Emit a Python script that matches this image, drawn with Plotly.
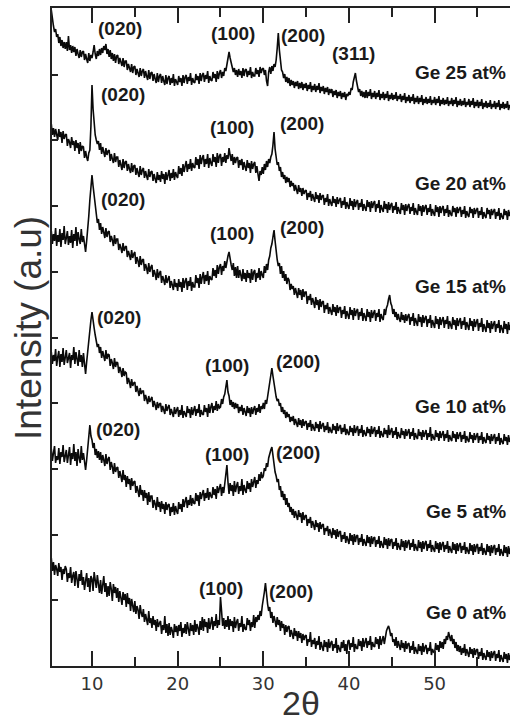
import numpy as np
import plotly.graph_objects as go

# 2-theta scan: start angle and step (degrees)
SCAN_START = 5.25
SCAN_STEP = 0.125

SAMPLES = ["Ge 0 at%", "Ge 5 at%", "Ge 10 at%", "Ge 15 at%", "Ge 20 at%", "Ge 25 at%"]

# Intensity (a.u.) per sample; first row 5.25-5.875, then one row per degree, last value 59.0
ge0 = [
    108, 95, 104, 91, 101, 97,
    90, 103, 94, 99, 86, 97, 92, 100,        # 6
    97, 84, 93, 88, 99, 83, 90, 94,          # 7
    80, 95, 87, 78, 92, 85, 96, 81,          # 8
    89, 76, 85, 93, 79, 88, 74, 90,          # 9
    87, 75, 94, 82, 78, 91, 84, 73,          # 10
    86, 72, 81, 90, 74, 83, 69, 80,          # 11
    70, 84, 77, 65, 82, 73, 79, 68,          # 12
    78, 64, 75, 68, 61, 74, 66, 72,          # 13
    59, 73, 62, 68, 55, 67, 60, 54,          # 14
    65, 52, 60, 56, 47, 61, 53, 49,          # 15
    57, 44, 52, 46, 41, 55, 43, 48,          # 16
    38, 50, 41, 46, 35, 47, 39, 43,          # 17
    45, 32, 41, 36, 50, 33, 42, 30,          # 18
    43, 31, 39, 35, 28, 42, 34, 40,          # 19
    30, 41, 35, 44, 29, 38, 33, 42,          # 20
    32, 44, 37, 30, 43, 35, 41, 31,          # 21
    46, 34, 42, 38, 31, 45, 36, 49,          # 22
    35, 47, 39, 44, 33, 48, 37, 43,          # 23
    49, 36, 45, 40, 52, 38, 46, 41,          # 24
    69, 55, 40, 48, 37, 46, 39, 50,          # 25
    36, 47, 40, 45, 34, 49, 38, 44,          # 26
    47, 35, 43, 39, 50, 34, 42, 37,          # 27
    36, 48, 41, 46, 35, 44, 39, 51,          # 28
    38, 49, 44, 51, 46, 55, 50, 60,          # 29
    66, 74, 83, 70, 62, 55, 59, 48,          # 30
    54, 43, 50, 45, 39, 49, 41, 46,          # 31
    35, 45, 38, 42, 31, 41, 34, 39,          # 32
    40, 29, 36, 32, 27, 38, 30, 35,          # 33
    25, 35, 28, 33, 23, 32, 26, 30,          # 34
    31, 20, 27, 24, 34, 19, 26, 22,          # 35
    28, 17, 25, 21, 30, 16, 24, 19,          # 36
    15, 26, 19, 24, 14, 27, 18, 23,          # 37
    25, 15, 22, 18, 28, 13, 21, 17,          # 38
    14, 24, 18, 26, 15, 22, 12, 25,          # 39
    26, 16, 23, 19, 29, 14, 22, 18,          # 40
    17, 27, 20, 25, 15, 28, 19, 24,          # 41
    28, 18, 25, 21, 30, 16, 24, 20,          # 42
    19, 29, 22, 27, 17, 30, 21, 26,          # 43
    30, 22, 31, 35, 38, 40, 36, 30,          # 44
    33, 24, 27, 20, 29, 18, 25, 21,          # 45
    16, 26, 18, 23, 14, 25, 17, 22,          # 46
    23, 13, 20, 16, 25, 12, 19, 15,          # 47
    12, 22, 15, 20, 11, 23, 14, 19,          # 48
    21, 12, 18, 15, 24, 11, 17, 14,          # 49
    13, 23, 16, 21, 14, 25, 18, 24,          # 50
    17, 27, 22, 30, 26, 34, 29, 25,          # 51
    31, 22, 27, 18, 24, 15, 21, 14,          # 52
    20, 11, 18, 13, 22, 10, 17, 12,          # 53
    9, 19, 12, 17, 8, 18, 11, 16,            # 54
    17, 7, 14, 10, 18, 6, 13, 9,             # 55
    6, 16, 9, 14, 5, 15, 8, 13,              # 56
    15, 5, 12, 8, 16, 4, 11, 7,              # 57
    4, 14, 7, 12, 3, 13, 6, 11,              # 58
    9,
]
ge5 = [
    107, 95, 103, 110, 93, 100,
    96, 108, 92, 104, 99, 111, 94, 102,      # 6
    106, 93, 100, 109, 91, 103, 97, 112,     # 7
    95, 104, 90, 107, 98, 93, 110, 96,       # 8
    103, 92, 86, 96, 110, 122, 131, 120,     # 9
    116, 108, 113, 101, 107, 98, 105, 96,    # 10
    104, 93, 101, 96, 90, 102, 92, 97,       # 11
    99, 86, 94, 89, 82, 93, 84, 88,          # 12
    89, 78, 85, 80, 74, 86, 76, 81,          # 13
    69, 80, 72, 77, 66, 78, 70, 74,          # 14
    75, 63, 70, 65, 59, 71, 61, 66,          # 15
    55, 66, 58, 63, 51, 64, 54, 60,          # 16
    60, 48, 56, 52, 46, 59, 49, 54,          # 17
    44, 55, 47, 52, 42, 54, 46, 51,          # 18
    52, 40, 49, 44, 53, 41, 50, 45,          # 19
    42, 54, 47, 52, 44, 57, 49, 55,          # 20
    59, 48, 56, 51, 61, 50, 58, 53,          # 21
    52, 63, 55, 61, 50, 64, 57, 62,          # 22
    66, 55, 63, 58, 68, 56, 64, 60,          # 23
    58, 69, 61, 67, 57, 70, 63, 68,          # 24
    72, 60, 69, 63, 75, 82, 91, 74,          # 25
    62, 73, 65, 71, 60, 75, 64, 70,          # 26
    74, 62, 70, 65, 77, 61, 71, 66,          # 27
    63, 75, 67, 73, 64, 77, 69, 74,          # 28
    79, 68, 76, 72, 82, 75, 84, 78,          # 29
    80, 88, 85, 93, 89, 98, 103, 106,        # 30
    109, 99, 93, 84, 80, 74, 77, 66,         # 31
    70, 59, 65, 56, 62, 51, 58, 49,          # 32
    53, 44, 49, 41, 47, 38, 45, 40,          # 33
    36, 46, 39, 43, 33, 44, 36, 40,          # 34
    41, 30, 37, 33, 39, 28, 35, 31,          # 35
    26, 36, 29, 33, 24, 34, 27, 31,          # 36
    32, 21, 28, 25, 30, 20, 27, 23,          # 37
    18, 28, 21, 26, 17, 27, 19, 24,          # 38
    25, 14, 21, 17, 24, 13, 20, 16,          # 39
    12, 23, 15, 21, 11, 22, 14, 20,          # 40
    21, 11, 18, 14, 22, 10, 17, 13,          # 41
    10, 21, 13, 19, 9, 20, 12, 18,           # 42
    19, 9, 16, 12, 20, 8, 15, 11,            # 43
    8, 19, 11, 17, 7, 18, 10, 16,            # 44
    17, 7, 14, 10, 18, 6, 13, 9,             # 45
    6, 17, 9, 15, 5, 16, 8, 14,              # 46
    16, 6, 13, 9, 17, 5, 12, 8,              # 47
    5, 16, 8, 14, 4, 15, 7, 13,              # 48
    15, 5, 12, 8, 16, 4, 11, 7,              # 49
    4, 15, 7, 13, 3, 14, 6, 12,              # 50
    14, 4, 11, 7, 15, 3, 10, 6,              # 51
    3, 14, 6, 12, 2, 13, 5, 11,              # 52
    13, 3, 10, 6, 14, 2, 9, 5,               # 53
    2, 13, 5, 11, 1, 12, 4, 10,              # 54
    12, 2, 9, 5, 13, 1, 8, 4,                # 55
    1, 12, 4, 10, 0, 11, 3, 9,               # 56
    11, 1, 8, 4, 12, 0, 7, 3,                # 57
    0, 11, 3, 9, -1, 10, 2, 8,               # 58
    7,
]
ge10 = [
    94, 82, 91, 85, 97, 80,
    89, 95, 79, 92, 84, 98, 81, 90,          # 6
    96, 83, 88, 93, 78, 91, 86, 99,          # 7
    82, 94, 87, 80, 96, 84, 91, 79,          # 8
    93, 80, 72, 84, 96, 106, 116, 126,       # 9
    134, 128, 118, 111, 104, 99, 102, 93,    # 10
    99, 88, 95, 91, 85, 96, 87, 92,          # 11
    91, 80, 87, 83, 77, 88, 79, 84,          # 12
    83, 73, 79, 75, 69, 78, 70, 74,          # 13
    73, 62, 68, 64, 58, 67, 60, 63,          # 14
    64, 54, 60, 55, 50, 58, 52, 55,          # 15
    55, 45, 51, 47, 42, 50, 44, 47,          # 16
    49, 39, 45, 41, 36, 44, 38, 42,          # 17
    43, 34, 40, 36, 32, 42, 35, 39,          # 18
    41, 31, 37, 33, 29, 39, 32, 36,          # 19
    39, 29, 36, 31, 41, 28, 35, 32,          # 20
    29, 40, 33, 37, 28, 39, 31, 36,          # 21
    40, 30, 37, 33, 42, 29, 36, 32,          # 22
    31, 41, 34, 38, 29, 42, 33, 39,          # 23
    43, 33, 40, 36, 45, 35, 42, 38,          # 24
    39, 47, 42, 49, 52, 59, 66, 54,          # 25
    50, 41, 46, 39, 44, 37, 43, 38,          # 26
    42, 33, 39, 35, 41, 31, 38, 34,          # 27
    30, 40, 33, 38, 29, 39, 32, 37,          # 28
    40, 31, 38, 34, 42, 33, 40, 37,          # 29
    43, 37, 46, 42, 49, 55, 63, 71,          # 30
    78, 70, 61, 55, 49, 45, 47, 40,          # 31
    43, 34, 39, 32, 36, 28, 34, 29,          # 32
    32, 24, 29, 25, 30, 21, 27, 23,          # 33
    19, 28, 21, 26, 18, 27, 20, 24,          # 34
    25, 16, 23, 19, 26, 15, 22, 18,          # 35
    15, 24, 18, 22, 14, 25, 17, 21,          # 36
    23, 14, 20, 16, 24, 13, 19, 15,          # 37
    13, 22, 16, 20, 12, 23, 15, 19,          # 38
    21, 12, 18, 14, 22, 11, 17, 13,          # 39
    11, 20, 14, 18, 10, 21, 13, 17,          # 40
    20, 10, 17, 13, 21, 9, 16, 12,           # 41
    10, 19, 13, 17, 9, 20, 12, 16,           # 42
    19, 9, 16, 12, 20, 8, 15, 11,            # 43
    9, 18, 12, 16, 8, 21, 11, 15,            # 44
    18, 8, 15, 11, 19, 7, 14, 10,            # 45
    8, 18, 11, 15, 7, 17, 10, 14,            # 46
    17, 7, 14, 10, 18, 6, 13, 9,             # 47
    7, 17, 10, 14, 6, 16, 9, 13,             # 48
    16, 6, 13, 9, 19, 5, 12, 8,              # 49
    6, 16, 9, 13, 5, 15, 8, 12,              # 50
    15, 5, 12, 8, 16, 4, 11, 7,              # 51
    5, 15, 8, 12, 4, 14, 7, 11,              # 52
    14, 4, 11, 7, 15, 3, 10, 6,              # 53
    4, 14, 7, 11, 3, 13, 6, 10,              # 54
    13, 3, 10, 6, 14, 2, 9, 5,               # 55
    3, 13, 6, 10, 2, 12, 5, 9,               # 56
    12, 2, 9, 5, 13, 1, 8, 4,                # 57
    2, 12, 5, 9, 1, 11, 4, 8,                # 58
    9,
]
ge15 = [
    105, 92, 102, 95, 108, 90,
    101, 94, 107, 89, 103, 96, 110, 92,      # 6
    98, 105, 91, 100, 93, 106, 88, 102,      # 7
    95, 109, 90, 104, 97, 92, 107, 94,       # 8
    100, 91, 84, 95, 106, 120, 136, 150,     # 9
    161, 150, 141, 128, 121, 113, 117, 106,  # 10
    113, 102, 109, 104, 98, 108, 99, 104,    # 11
    105, 94, 100, 96, 90, 101, 92, 97,       # 12
    97, 86, 92, 88, 83, 93, 85, 89,          # 13
    90, 79, 85, 81, 76, 86, 78, 82,          # 14
    84, 72, 79, 75, 69, 80, 71, 76,          # 15
    77, 65, 72, 68, 62, 73, 64, 69,          # 16
    71, 59, 66, 62, 56, 67, 58, 63,          # 17
    65, 53, 60, 56, 51, 61, 53, 57,          # 18
    60, 48, 55, 51, 46, 57, 49, 53,          # 19
    45, 57, 49, 54, 44, 58, 48, 55,          # 20
    58, 46, 55, 50, 59, 45, 54, 49,          # 21
    49, 61, 53, 58, 48, 62, 52, 59,          # 22
    64, 52, 61, 55, 65, 51, 60, 57,          # 23
    56, 68, 60, 66, 58, 71, 62, 69,          # 24
    72, 61, 70, 65, 75, 68, 77, 80,          # 25
    84, 76, 71, 66, 73, 60, 69, 58,          # 26
    70, 58, 66, 61, 55, 67, 57, 63,          # 27
    54, 66, 58, 63, 53, 67, 56, 64,          # 28
    66, 54, 63, 58, 68, 56, 65, 61,          # 29
    58, 70, 63, 72, 66, 76, 80, 88,          # 30
    92, 99, 106, 95, 84, 76, 70, 73,         # 31
    62, 70, 58, 65, 55, 62, 52, 58,          # 32
    56, 46, 52, 47, 50, 41, 48, 43,          # 33
    38, 48, 41, 46, 36, 47, 39, 44,          # 34
    44, 32, 40, 36, 42, 31, 38, 34,          # 35
    28, 39, 31, 36, 26, 37, 29, 34,          # 36
    35, 23, 31, 27, 33, 22, 29, 25,          # 37
    21, 32, 24, 29, 20, 31, 23, 28,          # 38
    29, 18, 26, 22, 30, 17, 25, 21,          # 39
    17, 29, 21, 26, 16, 28, 20, 25,          # 40
    27, 16, 24, 20, 28, 15, 23, 19,          # 41
    15, 27, 19, 24, 14, 26, 18, 23,          # 42
    26, 15, 23, 19, 27, 14, 22, 18,          # 43
    16, 27, 21, 28, 31, 37, 41, 33,          # 44
    30, 22, 27, 19, 24, 16, 22, 17,          # 45
    14, 24, 16, 21, 13, 22, 15, 20,          # 46
    22, 11, 19, 15, 23, 10, 18, 14,          # 47
    10, 22, 14, 19, 9, 21, 13, 18,           # 48
    20, 9, 17, 13, 21, 8, 16, 12,            # 49
    8, 20, 12, 17, 7, 19, 11, 16,            # 50
    19, 8, 16, 12, 20, 7, 15, 11,            # 51
    7, 19, 11, 16, 6, 18, 10, 15,            # 52
    18, 7, 15, 11, 19, 6, 14, 10,            # 53
    6, 18, 10, 15, 5, 17, 9, 14,             # 54
    17, 5, 13, 9, 18, 4, 12, 8,              # 55
    4, 16, 8, 13, 3, 15, 7, 12,              # 56
    15, 4, 12, 8, 16, 3, 11, 7,              # 57
    3, 15, 7, 12, 2, 14, 6, 11,              # 58
    9,
]
ge20 = [
    97, 86, 93, 84, 92, 87,
    81, 92, 84, 89, 78, 90, 82, 86,          # 6
    87, 75, 82, 79, 73, 84, 76, 80,          # 7
    70, 81, 73, 78, 67, 79, 70, 75,          # 8
    74, 63, 70, 64, 60, 68, 71, 95,          # 9
    136, 112, 96, 86, 81, 77, 80, 71,        # 10
    78, 67, 74, 69, 64, 73, 66, 70,          # 11
    71, 60, 67, 62, 58, 68, 59, 64,          # 12
    64, 54, 61, 56, 51, 62, 53, 59,          # 13
    60, 50, 57, 52, 48, 58, 49, 55,          # 14
    56, 46, 53, 48, 44, 55, 46, 51,          # 15
    53, 43, 50, 45, 41, 52, 44, 49,          # 16
    50, 40, 47, 42, 38, 49, 41, 46,          # 17
    39, 50, 42, 47, 37, 49, 41, 46,          # 18
    51, 40, 48, 43, 52, 41, 49, 45,          # 19
    43, 55, 47, 53, 45, 57, 49, 55,          # 20
    60, 49, 57, 52, 62, 50, 58, 54,          # 21
    53, 64, 56, 62, 52, 66, 57, 63,          # 22
    66, 54, 62, 57, 67, 53, 63, 58,          # 23
    55, 67, 59, 64, 54, 68, 58, 65,          # 24
    67, 55, 64, 59, 68, 58, 66, 62,          # 25
    73, 66, 60, 67, 56, 64, 58, 63,          # 26
    64, 53, 61, 56, 62, 51, 59, 54,          # 27
    50, 61, 53, 58, 48, 60, 52, 57,          # 28
    59, 48, 55, 47, 40, 50, 46, 54,          # 29
    47, 57, 51, 60, 54, 62, 58, 64,          # 30
    67, 76, 89, 72, 63, 56, 59, 50,          # 31
    54, 44, 49, 42, 46, 38, 44, 39,          # 32
    43, 34, 40, 35, 38, 30, 36, 31,          # 33
    27, 36, 29, 33, 25, 33, 27, 30,          # 34
    31, 21, 28, 24, 30, 20, 27, 23,          # 35
    19, 29, 22, 26, 18, 28, 21, 25,          # 36
    26, 16, 23, 19, 27, 15, 22, 18,          # 37
    15, 25, 18, 22, 14, 24, 17, 21,          # 38
    23, 13, 20, 16, 24, 12, 19, 15,          # 39
    12, 23, 15, 20, 11, 22, 14, 19,          # 40
    21, 11, 18, 14, 22, 10, 17, 13,          # 41
    10, 21, 14, 19, 9, 20, 13, 18,           # 42
    20, 9, 17, 13, 21, 8, 16, 12,            # 43
    9, 20, 12, 17, 8, 19, 11, 16,            # 44
    18, 8, 15, 11, 19, 7, 14, 10,            # 45
    7, 18, 11, 16, 6, 17, 10, 15,            # 46
    17, 7, 14, 10, 18, 6, 13, 9,             # 47
    6, 17, 10, 15, 5, 16, 9, 14,             # 48
    16, 6, 13, 9, 17, 5, 12, 8,              # 49
    5, 16, 9, 14, 4, 15, 8, 13,              # 50
    15, 5, 12, 8, 16, 4, 11, 7,              # 51
    5, 15, 9, 13, 4, 14, 8, 12,              # 52
    14, 4, 11, 7, 15, 3, 10, 6,              # 53
    4, 14, 8, 12, 3, 13, 7, 11,              # 54
    13, 3, 10, 6, 14, 2, 9, 5,               # 55
    3, 13, 7, 11, 2, 12, 6, 10,              # 56
    12, 2, 9, 5, 13, 1, 8, 4,                # 57
    2, 12, 6, 10, 1, 11, 5, 9,               # 58
    9,
]
ge25 = [
    106, 95, 90, 84, 87, 79,
    82, 73, 79, 70, 76, 68, 74, 67,          # 6
    74, 65, 80, 66, 71, 63, 70, 64,          # 7
    69, 60, 67, 62, 58, 66, 59, 64,          # 8
    65, 56, 62, 57, 53, 63, 55, 61,          # 9
    58, 64, 71, 62, 57, 65, 60, 67,          # 10
    61, 68, 63, 70, 66, 72, 62, 67,          # 11
    59, 66, 57, 63, 55, 62, 53, 60,          # 12
    61, 52, 58, 54, 50, 58, 49, 55,          # 13
    55, 46, 52, 48, 44, 52, 43, 49,          # 14
    50, 41, 47, 43, 39, 48, 40, 45,          # 15
    47, 38, 45, 40, 36, 46, 37, 43,          # 16
    44, 35, 42, 37, 33, 43, 34, 40,          # 17
    42, 33, 40, 35, 31, 41, 32, 38,          # 18
    40, 31, 38, 33, 42, 30, 37, 34,          # 19
    31, 40, 34, 38, 30, 41, 33, 39,          # 20
    41, 32, 39, 35, 43, 31, 38, 34,          # 21
    33, 42, 36, 40, 32, 43, 35, 41,          # 22
    43, 34, 41, 37, 45, 33, 40, 36,          # 23
    35, 44, 38, 42, 34, 45, 37, 43,          # 24
    46, 38, 44, 40, 48, 45, 52, 57,          # 25
    64, 58, 52, 47, 44, 48, 41, 46,          # 26
    39, 47, 41, 45, 38, 48, 40, 46,          # 27
    47, 39, 45, 41, 49, 38, 44, 40,          # 28
    40, 48, 42, 46, 39, 49, 43, 47,          # 29
    48, 41, 46, 35, 30, 44, 49, 42,          # 30
    50, 45, 52, 49, 56, 68, 83, 66,          # 31
    55, 46, 44, 38, 42, 34, 39, 33,          # 32
    38, 30, 36, 31, 35, 28, 34, 30,          # 33
    35, 27, 33, 28, 34, 26, 32, 28,          # 34
    33, 25, 31, 27, 34, 24, 30, 26,          # 35
    32, 24, 30, 26, 33, 23, 29, 25,          # 36
    30, 22, 28, 24, 29, 21, 27, 23,          # 37
    27, 19, 25, 21, 26, 18, 24, 20,          # 38
    25, 17, 23, 19, 24, 16, 22, 20,          # 39
    24, 21, 28, 26, 34, 38, 43, 35,          # 40
    30, 24, 27, 20, 25, 19, 24, 18,          # 41
    26, 18, 24, 20, 27, 17, 23, 19,          # 42
    25, 17, 23, 19, 26, 16, 22, 18,          # 43
    24, 16, 22, 18, 25, 15, 21, 17,          # 44
    23, 16, 21, 17, 24, 15, 20, 17,          # 45
    22, 14, 20, 16, 23, 13, 19, 15,          # 46
    21, 13, 19, 15, 22, 12, 18, 14,          # 47
    20, 12, 18, 14, 21, 11, 17, 13,          # 48
    19, 12, 17, 13, 20, 11, 16, 13,          # 49
    19, 11, 17, 13, 20, 10, 16, 12,          # 50
    18, 11, 16, 12, 19, 10, 15, 12,          # 51
    18, 10, 16, 12, 19, 9, 15, 11,           # 52
    17, 10, 15, 11, 18, 9, 14, 11,           # 53
    17, 9, 15, 11, 18, 8, 14, 10,            # 54
    16, 8, 14, 10, 17, 7, 13, 9,             # 55
    15, 8, 13, 9, 16, 7, 12, 9,              # 56
    15, 7, 13, 9, 16, 6, 12, 8,              # 57
    14, 7, 12, 8, 15, 6, 11, 8,              # 58
    10,
]
PATTERNS = [ge0, ge5, ge10, ge15, ge20, ge25]

# Reflection labels per sample: (hkl, 2theta, height) in plot units
REFLECTIONS = [
    [("(100)", 25.02, 78), ("(200)", 33.19, 75)],
    [("(020)", 13.0, 237), ("(100)", 25.72, 212), ("(200)", 34.01, 214)],
    [("(020)", 13.11, 349), ("(100)", 25.72, 301), ("(200)", 34.01, 305)],
    [("(020)", 13.58, 467), ("(100)", 26.31, 433), ("(200)", 34.48, 439)],
    [("(020)", 13.58, 572), ("(100)", 26.31, 539), ("(200)", 34.48, 543)],
    [("(020)", 13.23, 638), ("(100)", 26.42, 633), ("(200)", 34.59, 631), ("(311)", 40.55, 613)],
]
SAMPLE_LABEL_Y = [54, 155, 260, 380, 483, 594]

# vertical stacking offsets for the patterns
OFFSETS = [0, 110, 220, 330, 445, 550]

INK = "#0a0a0a"
AXIS = "#222222"
GREY = "#333333"

fig = go.Figure()
for vals, off in zip(PATTERNS, OFFSETS):
    y = np.asarray(vals, dtype=float)
    x = SCAN_START + SCAN_STEP * np.arange(len(y))
    fig.add_trace(go.Scatter(
        x=x, y=y + off, mode="lines",
        line=dict(color=INK, width=1.6),
        showlegend=False, hoverinfo="skip",
    ))

LABEL_FONT = dict(family="Liberation Sans, Arial", size=19, color="#1a1a1a", weight="bold")

annotations = []
for refl in REFLECTIONS:
    for text, xa, ya in refl:
        annotations.append(dict(
            x=xa, y=ya, xref="x", yref="y", text=text, showarrow=False,
            font=LABEL_FONT, xanchor="center", yanchor="middle",
        ))
for name, ya in zip(SAMPLES, SAMPLE_LABEL_Y):
    annotations.append(dict(
        x=58.52, y=ya, xref="x", yref="y", text=name, showarrow=False,
        font=LABEL_FONT, xanchor="right", yanchor="middle",
    ))

# axis titles placed in paper fractions of the plotting area
PLOT_L, PLOT_R, PLOT_T, PLOT_B = 52, 510, 8, 666
H = 725


def paper_x(px):
    return (px - PLOT_L) / (PLOT_R - PLOT_L)


def paper_y(py):
    return (PLOT_B - py) / (PLOT_B - PLOT_T)


annotations.append(dict(
    x=paper_x(29), y=paper_y(328), xref="paper", yref="paper", text="Intensity (a.u)",
    showarrow=False, textangle=-90,
    font=dict(family="Liberation Sans, Arial", size=37, color=GREY),
    xanchor="center", yanchor="middle",
))
annotations.append(dict(
    x=paper_x(301), y=paper_y(703), xref="paper", yref="paper", text="2θ",
    showarrow=False,
    font=dict(family="Liberation Sans, Arial", size=34, color=GREY),
    xanchor="center", yanchor="middle",
))

fig.update_layout(
    width=510, height=H,
    margin=dict(l=PLOT_L, r=510 - PLOT_R, t=PLOT_T, b=H - PLOT_B),
    paper_bgcolor="white", plot_bgcolor="white",
    annotations=annotations,
    xaxis=dict(
        range=[5.33, 58.8], tickmode="array", tickvals=[10, 20, 30, 40, 50],
        ticks="inside", ticklen=15, tickwidth=1.5, tickcolor=AXIS,
        minor=dict(tickmode="array", tickvals=[15, 25, 35, 45, 55], ticks="inside",
                   ticklen=9, tickwidth=1.5, tickcolor=AXIS),
        showline=True, linewidth=2, linecolor=AXIS, mirror="ticks",
        showgrid=False, zeroline=False,
        tickfont=dict(family="DejaVu Sans", size=18, color=GREY),
    ),
    yaxis=dict(
        range=[0, 658], tick0=0, dtick=65.7,
        ticks="inside", ticklen=6, tickwidth=1.5, tickcolor=AXIS,
        showticklabels=False, showline=True, linewidth=2, linecolor=AXIS,
        mirror=False, showgrid=False, zeroline=False,
    ),
)

fig.write_html("out.html")
